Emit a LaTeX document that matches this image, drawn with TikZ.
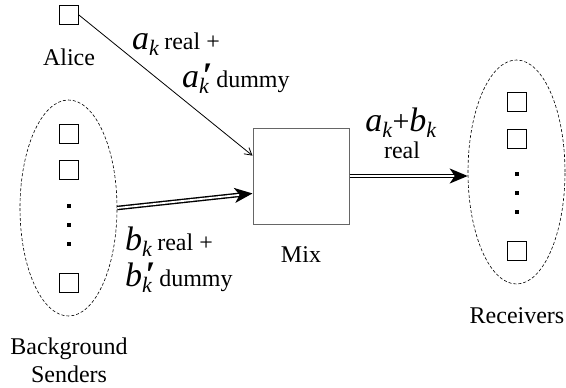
\documentclass[tikz,border=0pt]{standalone}
\usepackage{fontspec}
\setmainfont{Liberation Serif}
\usetikzlibrary{shapes.geometric,arrows.meta,calc}
\newcommand{\mvar}[1]{{\fontsize{34}{34}\selectfont\textit{#1}}}
\newcommand{\msub}[1]{\raisebox{-6pt}{\fontsize{22}{22}\selectfont\textit{#1}}}
\newcommand{\mprime}{{\fontsize{36}{36}\selectfont\textbf{\textit{′}}}}
\newcommand{\stxt}[1]{{\fontsize{24}{24}\selectfont #1}}
\begin{document}
\begin{tikzpicture}[x=1pt,y=-1pt,
  sq/.style={draw,line width=0.8pt,minimum size=19pt,inner sep=0pt},
  dotsq/.style={fill=black,minimum size=4.5pt,inner sep=0pt},
  grp/.style={draw,dash pattern=on 3pt off 2pt,line width=0.6pt,ellipse,inner sep=0pt},
  lbl/.style={font=\fontsize{24}{28}\selectfont,inner sep=0pt},
  mlbl/.style={inner sep=0pt,anchor=base west},
  thin arrow/.style={line width=0.8pt,-{Straight Barb[length=7pt,width=8pt]}},
  dbl arrow/.style={double,double distance=1.8pt,line width=1.4pt,-{Stealth[length=18pt,width=15pt,inset=5pt]}}
]
\useasboundingbox (0,0) rectangle (566,388);

% Alice
\node[sq] (alice) at (69,15) {};
\node[lbl] (alicelbl) at (69,57) {Alice};

% background senders
\node[grp,minimum width=97pt,minimum height=216pt] (bg) at (68.5,208) {};
\node[sq] (b1) at (69,134) {};
\node[sq] (b2) at (69,170) {};
\node[dotsq] (bd1) at (69,206) {};
\node[dotsq] (bd2) at (69,225) {};
\node[dotsq] (bd3) at (69,244) {};
\node[sq] (b3) at (69,283) {};
\node[lbl,align=center] (bglbl) at (69,360) {Background\\Senders};

% mix
\node[draw=black!60,line width=1pt,minimum width=96pt,minimum height=96pt,inner sep=0pt] (mix) at (301,176) {};
\node[lbl] (mixlbl) at (301,255) {Mix};

% receivers
\node[grp,minimum width=97pt,minimum height=224pt] (rcv) at (516.5,172) {};
\node[sq] (r1) at (517,102) {};
\node[sq] (r2) at (517,139) {};
\node[dotsq] (rd1) at (517,174) {};
\node[dotsq] (rd2) at (517,193) {};
\node[dotsq] (rd3) at (517,212) {};
\node[sq] (r3) at (517,251) {};
\node[lbl] (rcvlbl) at (517,316) {Receivers};

% arrows
\draw[thin arrow] (alice.east) -- ($(mix.north west)!0.29!(mix.south west)$);
\draw[dbl arrow] (bg.east) -- ($(mix.north west)!0.68!(mix.south west)$);
\draw[dbl arrow] (mix.east) -- (mix.east -| rcv.west);

% labels
\node[mlbl] (la1) at (132,49) {\mvar{a}\msub{k}\kern5pt\stxt{real +}};
\node[mlbl] (la2) at (182,87) {\mvar{a}\makebox[0pt][l]{\msub{k}}\kern3pt\mprime\kern4pt\stxt{dummy}};
\node[mlbl] (lb1) at (125,250) {\mvar{b}\msub{k}\kern5pt\stxt{real +}};
\node[mlbl] (lb2) at (125,286) {\mvar{b}\makebox[0pt][l]{\msub{k}}\kern3pt\mprime\kern4pt\stxt{dummy}};
\node[inner sep=0pt,anchor=base] (lab) at (401,131) {\mvar{a}\msub{k}{\fontsize{30}{30}\selectfont+}\mvar{b}\msub{k}};
\node[inner sep=0pt,anchor=base] (lreal) at (402,158) {\stxt{real}};
\end{tikzpicture}
\end{document}
